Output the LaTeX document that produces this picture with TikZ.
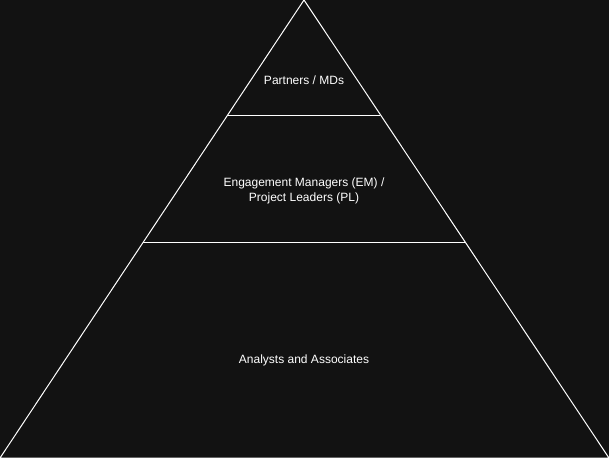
\documentclass[tikz,border=0pt]{standalone}
\usepackage{fontspec}
\setmainfont{Liberation Sans}
\usetikzlibrary{positioning}
\definecolor{bgdark}{HTML}{121212}
\tikzset{
  tier/.style={text=white, align=center, font=\fontsize{12}{15}\selectfont},
  edge/.style={draw=white, line width=1pt}
}
\begin{document}
\begin{tikzpicture}[x=1pt, y=-1pt]
            \fill[bgdark] (0,0) rectangle (609,458);
            \useasboundingbox (0,0) rectangle (609,458);
            \coordinate (top) at (304,0);
            \coordinate (bl) at (0,458);
            \coordinate (br) at (609,458);
            \coordinate (l1) at (228,115);
            \coordinate (r1) at (380,115);
            \coordinate (l2) at (143,242);
            \coordinate (r2) at (465,242);
            \draw[edge] (top) -- (bl) -- (br) -- cycle;
            \draw[edge] (l1) -- (r1);
            \draw[edge] (l2) -- (r2);
            \node[tier] (pmd) at (304,80) {Partners / MDs};
            \node[tier] (empl) at (304,191) {Engagement Managers (EM) /\\Project Leaders (PL)};
            \node[tier] (aa) at (304,360) {Analysts and Associates};
\end{tikzpicture}
\end{document}
